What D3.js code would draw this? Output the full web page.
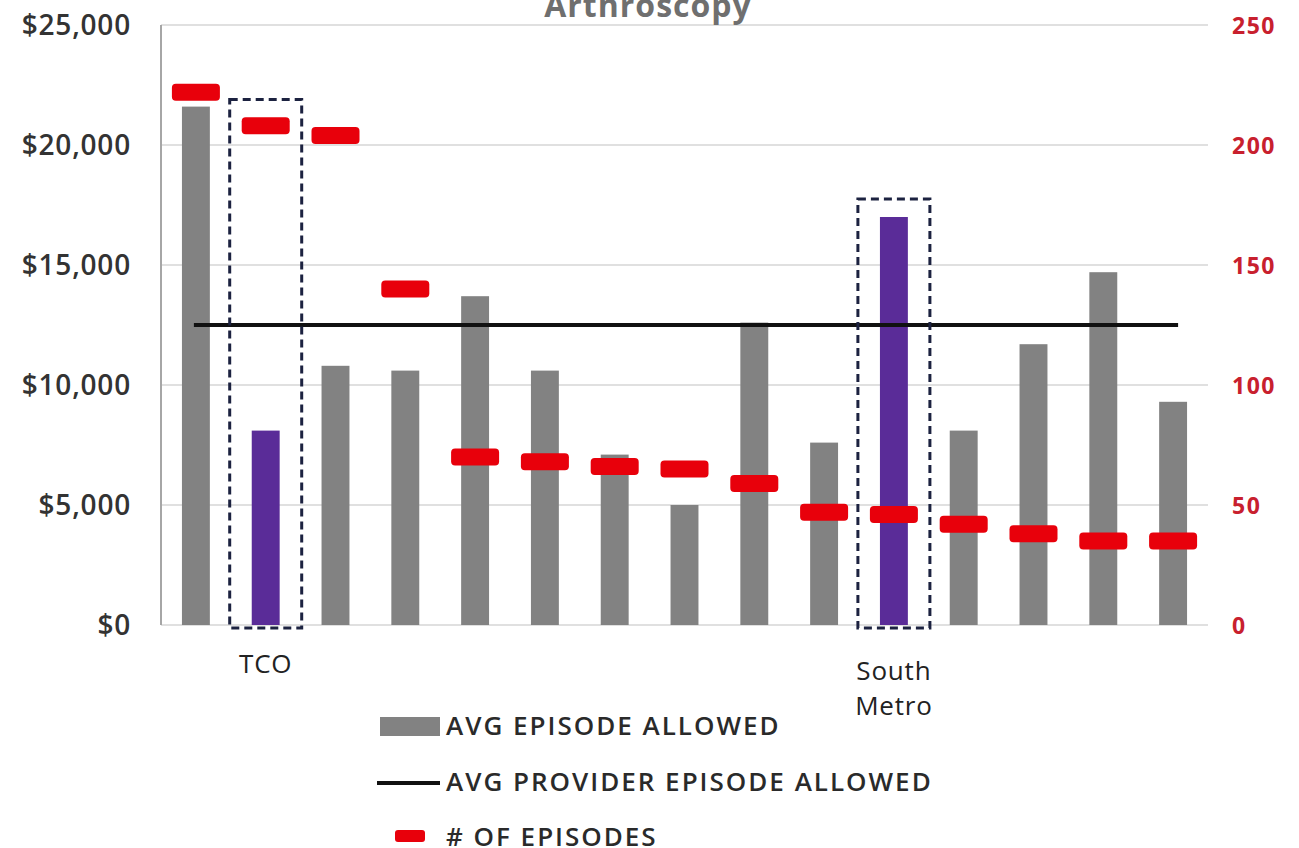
<!DOCTYPE html>
<html>
<head>
<meta charset="utf-8">
<script src="https://cdn.jsdelivr.net/npm/d3@7"></script>
<style>
  html, body { margin: 0; padding: 0; background: #fff; }
  svg { display: block; }
</style>
</head>
<body>
<svg id="chart" width="1299" height="848"></svg>
<script>
// ---- data ----
const title = "Arthroscopy";
const categories = ["", "TCO", "", "", "", "", "", "", "", "", "South Metro", "", "", "", ""];
const avgEpisodeAllowed = [21600, 8100, 10800, 10600, 13700, 10600, 7100, 5000, 12600, 7600, 17000, 8100, 11700, 14700, 9300];
const numEpisodes = [222, 208, 204, 140, 70, 68, 66, 65, 59, 47, 46, 42, 38, 35, 35];
const avgProviderEpisodeAllowed = 12500;
const highlighted = [1, 10];
const highlightBoxTop = [21900, 17750];
const leftTicks = [0, 5000, 10000, 15000, 20000, 25000];
const rightTicks = [0, 50, 100, 150, 200, 250];
const legendLabels = ["AVG EPISODE ALLOWED", "AVG PROVIDER EPISODE ALLOWED", "# OF EPISODES"];

// ---- layout ----
const svg = d3.select("#chart");
const plot = { left: 161, right: 1208, top: 25, bottom: 625 };
const font = "'Open Sans', 'Noto Sans', sans-serif";

const x = d3.scaleBand().domain(d3.range(categories.length)).range([plot.left, plot.right]).padding(0);
const yL = d3.scaleLinear().domain([0, 25000]).range([plot.bottom, plot.top]);
const yR = d3.scaleLinear().domain([0, 250]).range([plot.bottom, plot.top]);
const barW = x.bandwidth() * 0.4;

// gridlines
svg.append("g").selectAll("line").data(leftTicks).join("line")
  .attr("x1", plot.left).attr("x2", plot.right)
  .attr("y1", d => yL(d)).attr("y2", d => yL(d))
  .attr("stroke", "#e0e0e0").attr("stroke-width", 2);

// left axis line
svg.append("line").attr("x1", plot.left).attr("x2", plot.left)
  .attr("y1", plot.top).attr("y2", plot.bottom)
  .attr("stroke", "#a6a6a6").attr("stroke-width", 2);

// title
svg.append("text").attr("x", 648).attr("y", 17).attr("text-anchor", "middle")
  .attr("font-family", font).attr("font-weight", 700).attr("font-size", 32)
  .attr("letter-spacing", 1)
  .attr("fill", "#6f6f6f").text(title);

// left axis
const leftAxis = d3.axisLeft(yL).tickValues(leftTicks).tickSize(0).tickPadding(0)
  .tickFormat(d => "$" + d3.format(",")(d));
const gL = svg.append("g").attr("transform", `translate(131,0)`).call(leftAxis);
gL.select(".domain").remove();
gL.selectAll("text").attr("font-family", font).attr("font-size", 28).attr("font-weight", 600)
  .attr("letter-spacing", 0.8)
  .attr("fill", "#333").attr("dy", "0.35em");

// right axis
const rightAxis = d3.axisRight(yR).tickValues(rightTicks).tickSize(0).tickPadding(0);
const gR = svg.append("g").attr("transform", `translate(1232,0)`).call(rightAxis);
gR.select(".domain").remove();
gR.selectAll("text").attr("font-family", font).attr("font-size", 23).attr("font-weight", 700)
  .attr("letter-spacing", 1.5)
  .attr("fill", "#c8202e").attr("dy", "0.35em");

// bars
svg.append("g").selectAll("rect").data(avgEpisodeAllowed).join("rect")
  .attr("x", (d, i) => x(i) + (x.bandwidth() - barW) / 2)
  .attr("width", barW)
  .attr("y", d => yL(d))
  .attr("height", d => yL(0) - yL(d))
  .attr("fill", (d, i) => highlighted.includes(i) ? "#5a2c98" : "#828282");

// average provider line
svg.append("line")
  .attr("x1", x(0) + x.bandwidth() / 2 - 2)
  .attr("x2", x(categories.length - 1) + x.bandwidth() / 2 + 5)
  .attr("y1", yL(avgProviderEpisodeAllowed)).attr("y2", yL(avgProviderEpisodeAllowed))
  .attr("stroke", "#111").attr("stroke-width", 4);

// dashed highlight boxes
svg.append("g").selectAll("rect").data(highlighted).join("rect")
  .attr("x", (d, k) => x(d) + x.bandwidth() / 2 - 36)
  .attr("width", 72)
  .attr("y", (d, k) => yL(highlightBoxTop[k]))
  .attr("height", (d, k) => yL(0) + 3 - yL(highlightBoxTop[k]))
  .attr("fill", "none").attr("stroke", "#1c2240").attr("stroke-width", 3)
  .attr("stroke-dasharray", "8,5");

// episode markers
const mW = 48, mH = 17;
svg.append("g").selectAll("rect").data(numEpisodes).join("rect")
  .attr("x", (d, i) => x(i) + x.bandwidth() / 2 - mW / 2)
  .attr("y", d => yR(d) - mH / 2)
  .attr("width", mW).attr("height", mH).attr("rx", 4)
  .attr("fill", "#e8000b");

// category labels
const lab = svg.append("g");
categories.forEach((c, i) => {
  if (!c) return;
  const words = c.split(" ");
  const t = lab.append("text").attr("text-anchor", "middle")
    .attr("font-family", font).attr("font-size", 26).attr("letter-spacing", 0.8)
    .attr("fill", "#222");
  words.forEach((w, j) => {
    t.append("tspan").attr("x", x(i) + x.bandwidth() / 2)
      .attr("y", (words.length > 1 ? 680 : 673) + j * 35).text(w);
  });
});

// legend
const lg = svg.append("g").attr("font-family", font).attr("font-weight", 600)
  .attr("font-size", 26).attr("letter-spacing", 2).attr("fill", "#2a2a2a");
lg.append("rect").attr("x", 380).attr("y", 717).attr("width", 60).attr("height", 19).attr("fill", "#828282");
lg.append("text").attr("x", 446).attr("y", 735).text(legendLabels[0]);
lg.append("line").attr("x1", 377).attr("x2", 440).attr("y1", 783).attr("y2", 783)
  .attr("stroke", "#111").attr("stroke-width", 4);
lg.append("text").attr("x", 446).attr("y", 791).text(legendLabels[1]);
lg.append("rect").attr("x", 395).attr("y", 830).attr("width", 30).attr("height", 12).attr("rx", 3).attr("fill", "#e8000b");
lg.append("text").attr("x", 446).attr("y", 846).text(legendLabels[2]);
</script>
</body>
</html>
